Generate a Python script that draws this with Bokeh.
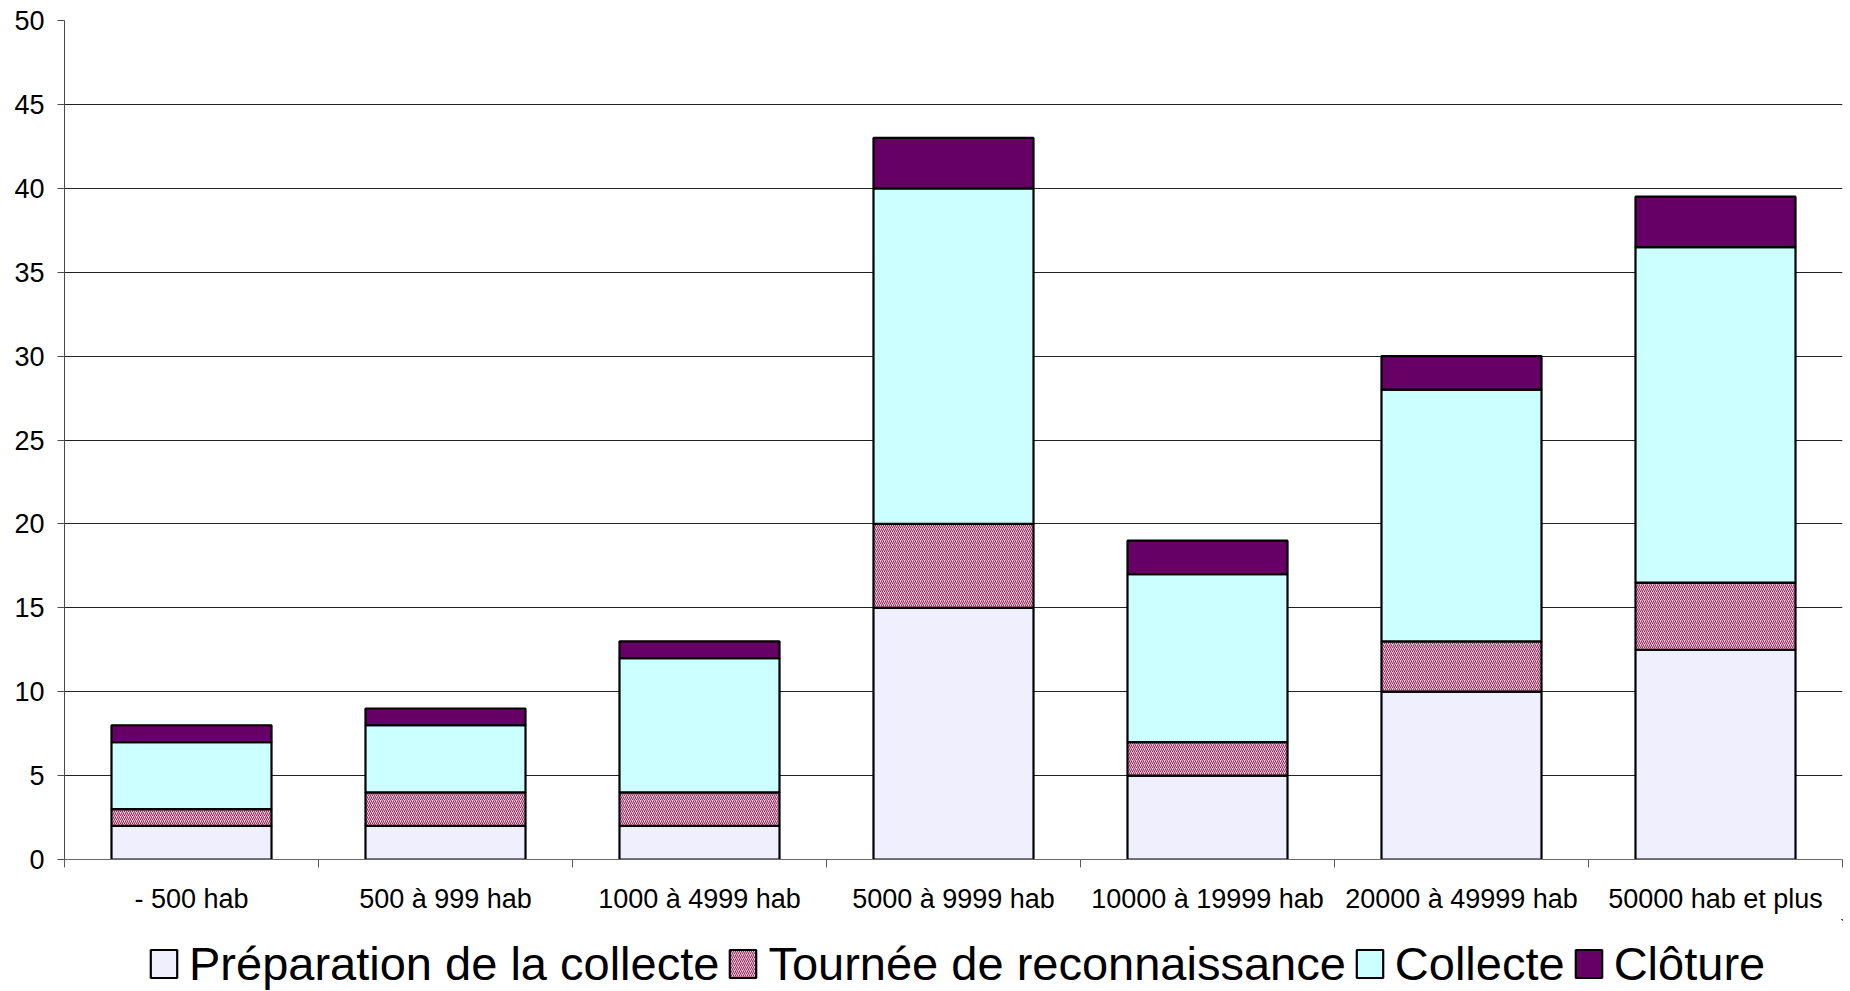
from bokeh.plotting import figure
from bokeh.models import (ColumnDataSource, Range1d, FixedTicker, Legend, LegendItem)
from bokeh.layouts import column
from bokeh.embed import file_html
from bokeh.resources import INLINE

categories = ["- 500 hab", "500 à 999 hab", "1000 à 4999 hab", "5000 à 9999 hab",
              "10000 à 19999 hab", "20000 à 49999 hab", "50000 hab et plus"]
preparation = [2, 2, 2, 15, 5, 10, 12.5]
tournee = [1, 2, 2, 5, 2, 3, 4]
collecte = [4, 4, 8, 20, 10, 15, 20]
cloture = [1, 1, 1, 3, 2, 2, 3]
series_names = ["Préparation de la collecte", "Tournée de reconnaissance", "Collecte", "Clôture"]
y_ticks = [0, 5, 10, 15, 20, 25, 30, 35, 40, 45, 50]

FONT = "Liberation Sans"
fills = ["#efeffd", "#efc2d6", "#ccffff", "#660066"]
hatches = [None, "/", None, None]

positions = list(range(1, len(categories) + 1))
source = ColumnDataSource(dict(x=positions, prep=preparation, tour=tournee,
                               coll=collecte, clot=cloture))

p = figure(width=1850, height=919, output_backend="svg", toolbar_location=None,
           x_range=Range1d(0.5, len(categories) + 0.5), y_range=Range1d(0, 50),
           min_border_left=64, min_border_right=8, min_border_top=20,
           min_border_bottom=60)
p.outline_line_color = None

renderers = p.vbar_stack(["prep", "tour", "coll", "clot"], x="x", width=0.63,
                         source=source, fill_color=fills,
                         line_color="black", line_width=2.2)
hr = renderers[1]
hr.glyph.hatch_pattern = "/"
hr.glyph.hatch_color = "#8b2a5a"
hr.glyph.hatch_scale = 4
hr.glyph.hatch_weight = 1

# y axis
p.yaxis.ticker = FixedTicker(ticks=y_ticks)
p.yaxis.minor_tick_line_color = None
p.yaxis.major_tick_out = 7
p.yaxis.major_tick_in = 0
p.yaxis.major_tick_line_color = "#4a4a4a"
p.yaxis.axis_line_color = "#4a4a4a"
p.yaxis.major_label_standoff = 13
p.yaxis.major_label_text_font = FONT
p.yaxis.major_label_text_font_size = "27px"
p.yaxis.major_label_text_color = "black"

# x axis
p.xaxis.ticker = FixedTicker(ticks=positions,
                             minor_ticks=[i + 0.5 for i in range(len(categories) + 1)])
p.xaxis.major_label_overrides = {pos: cat for pos, cat in zip(positions, categories)}
p.xaxis.major_tick_line_color = None
p.xaxis.major_tick_out = 0
p.xaxis.major_tick_in = 0
p.xaxis.minor_tick_out = 8
p.xaxis.minor_tick_in = 0
p.xaxis.minor_tick_line_color = "#5a5a5a"
p.xaxis.axis_line_color = "#6a6a6a"
p.xaxis.major_label_standoff = 16
p.xaxis.major_label_text_font = FONT
p.xaxis.major_label_text_font_size = "27px"
p.xaxis.major_label_text_color = "black"

p.xgrid.grid_line_color = None
p.ygrid.ticker = FixedTicker(ticks=y_ticks)
p.ygrid.grid_line_color = "#222222"
p.ygrid.grid_line_width = 1

# legend strip below the chart
lg = figure(width=1850, height=72, output_backend="svg", toolbar_location=None,
            x_range=Range1d(0, 1), y_range=Range1d(0, 1), min_border=0)
lg.axis.visible = False
lg.grid.grid_line_color = None
lg.outline_line_color = None
items = []
for name, fc, hp in zip(series_names, fills, hatches):
    r = lg.vbar(x=[5], top=[5], bottom=[4], width=0.5, fill_color=fc,
                line_color="black", line_width=2.2)
    if hp:
        r.glyph.hatch_pattern = hp
        r.glyph.hatch_color = "#8b2a5a"
        r.glyph.hatch_scale = 4
        r.glyph.hatch_weight = 1
    items.append(LegendItem(label=name, renderers=[r]))

legend = Legend(items=items, orientation="horizontal", location=(83, 0),
                glyph_width=33, glyph_height=35, label_standoff=9, spacing=7,
                padding=0, margin=0, border_line_color=None, background_fill_alpha=0,
                label_text_font=FONT, label_text_font_size="47px", label_text_color="black")
lg.add_layout(legend)

layout = column(p, lg, spacing=0)
open("out.html", "w").write(file_html(layout, INLINE))
